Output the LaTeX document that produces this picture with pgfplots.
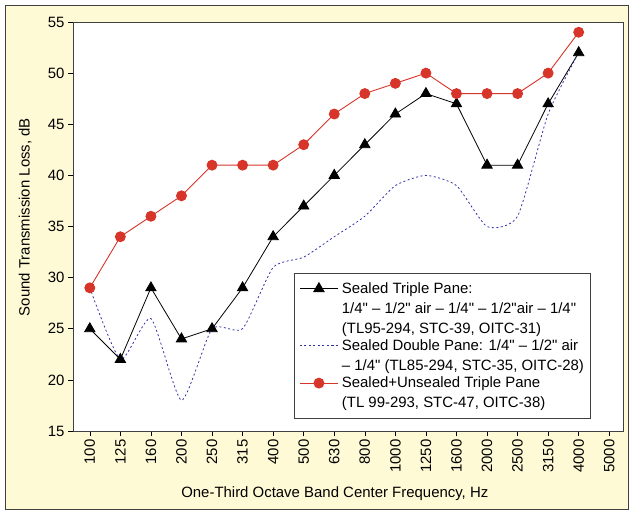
\documentclass[border=0pt]{standalone}
\usepackage{fontspec}
\setmainfont{Liberation Sans}[Ligatures=TeXOff]
\usepackage{pgfplots}
\pgfplotsset{compat=1.18}
\definecolor{cream}{RGB}{255,250,214}
\definecolor{myred}{RGB}{215,52,42}
\definecolor{myblue}{RGB}{50,50,170}
\begin{document}
\begin{tikzpicture}
\useasboundingbox (-73bp,-81bp) rectangle (558bp,431bp);
\fill[white] (-73bp,-81bp) rectangle (558bp,431bp);
\draw[fill=cream, draw=black!75, line width=0.8pt] (-68bp,-78bp) rectangle (555bp,426bp);
\begin{axis}[
  scale only axis,
  width=550bp, height=409bp,
  axis background/.style={fill=white},
  font=\fontsize{15}{16}\selectfont,
  /pgf/number format/assume math mode=true,
  xmin=-0.55, xmax=17.45,
  ymin=15, ymax=55,
  ytick={15,20,...,55},
  xtick={0,...,17},
  xticklabels={100,125,160,200,250,315,400,500,630,800,1000,1250,1600,2000,2500,3150,4000,5000},
  x tick label style={rotate=90, anchor=east},
  tick align=outside,
  major tick length=5bp,
  xtick pos=bottom, ytick pos=left,
  tick style={black, line width=0.6pt},
  axis line style={draw=black!75, line width=0.8pt},
  xlabel={One-Third Octave Band Center Frequency, Hz},
  ylabel={Sound Transmission Loss, dB},
  x label style={at={(axis description cs:0.476,-0.154)}, anchor=center},
  y label style={at={(axis description cs:-0.087,0.523)}, anchor=center},
  legend cell align=left,
  legend style={at={(0.402,0.029)}, anchor=south west, draw=black!75, line width=0.8pt,
    font=\fontsize{15}{20}\selectfont, cells={align=left}, nodes={inner sep=1.5bp},
    inner xsep=5bp, inner ysep=8bp, row sep=2bp, column sep=2bp},
  legend image code/.code={\draw[mark repeat=2,mark phase=2,#1] plot coordinates {(0bp,0bp) (19bp,0bp) (38bp,0bp)};},
]
\addplot[black, line width=0.8pt, mark=triangle*, mark size=6pt, mark options={solid},
  legend image post style={yshift=20bp}] coordinates {
(0,25) (1,22) (2,29) (3,24) (4,25) (5,29) (6,34) (7,37) (8,40) (9,43) (10,46) (11,48) (12,47) (13,41) (14,41) (15,47) (16,52)};
\addlegendentry{Sealed Triple Pane:\\1/4" – 1/2" air – 1/4" – 1/2"air – 1/4"\\(TL95-294, STC-39, OITC-31)}
\addplot[myblue, line width=0.8pt, dash pattern=on 2pt off 2.5pt, smooth, tension=0.35,
  legend image post style={yshift=10bp}] coordinates {
(0,29) (1,22) (2,26) (3,18) (4,25) (5,25) (6,31) (7,32) (8,34) (9,36) (10,39) (11,40) (12,39) (13,35) (14,36) (15,46) (16,52)};
\addlegendentry{Sealed Double Pane: 1/4" – 1/2" air\\– 1/4" (TL85-294, STC-35, OITC-28)}
\addplot[myred, line width=0.9pt, mark=*, mark size=5pt, mark options={solid, fill=myred},
  legend image post style={yshift=10bp}] coordinates {
(0,29) (1,34) (2,36) (3,38) (4,41) (5,41) (6,41) (7,43) (8,46) (9,48) (10,49) (11,50) (12,48) (13,48) (14,48) (15,50) (16,54)};
\addlegendentry{Sealed+Unsealed Triple Pane\\(TL 99-293, STC-47, OITC-38)}
\end{axis}
\end{tikzpicture}
\end{document}
